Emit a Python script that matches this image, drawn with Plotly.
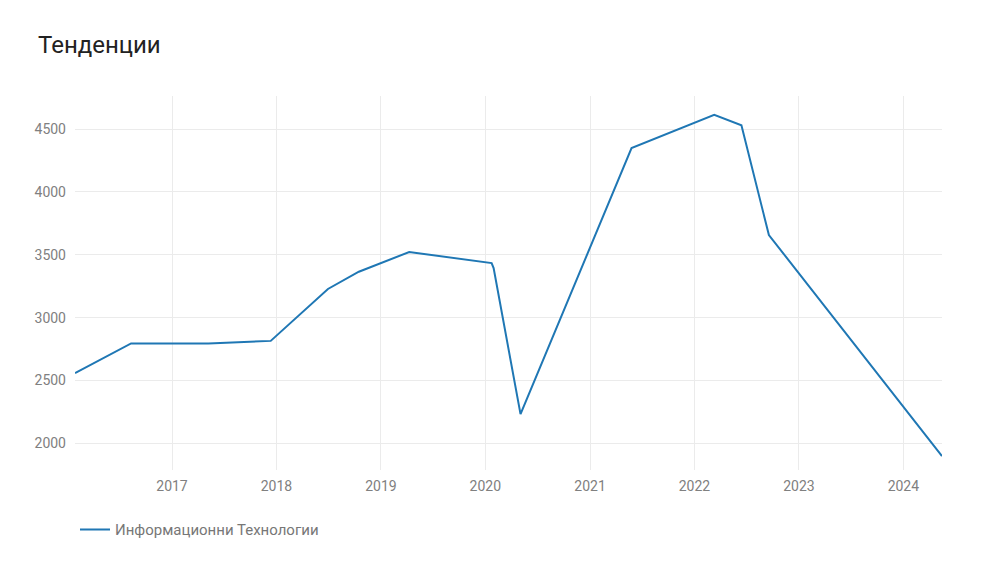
import plotly.graph_objects as go

dates = ["2016-01-28", "2016-08-11", "2017-05-08", "2017-12-12", "2018-06-30",
         "2018-10-16", "2019-04-10", "2020-01-23", "2020-01-30", "2020-05-03",
         "2021-05-26", "2022-03-11", "2022-06-14", "2022-09-18", "2024-05-15"]
values = [2559, 2795, 2795, 2815, 3228,
          3365, 3522, 3434, 3394, 2232,
          4349, 4614, 4530, 3657, 1899]
series_name = "Информационни Технологии"
title_text = "Тенденции"

W, H = 980, 559

fig = go.Figure()
fig.add_trace(go.Scatter(
    x=dates, y=values, mode="lines", name=series_name,
    line=dict(color="#1f77b4", width=2),
))

fig.update_layout(
    width=W, height=H,
    paper_bgcolor="white", plot_bgcolor="white",
    font=dict(family="Roboto, sans-serif", size=14, color="#808080"),
    title=dict(text=title_text, x=30/W, xanchor="left", xref="container",
               y=1-37/H, yanchor="middle", yref="container",
               font=dict(family="Roboto, sans-serif", size=24, color="#222222")),
    margin=dict(l=67, r=46, t=88, b=97),
    showlegend=True,
    legend=dict(orientation="h", x=0, xanchor="left", y=-0.16, yanchor="middle",
                font=dict(size=15, color="#777777")),
    xaxis=dict(type="date", range=["2016-01-28", "2024-05-15"],
               showgrid=True, gridcolor="#ebebeb", zeroline=False,
               showline=False, ticks="", dtick="M12", tick0="2017-01-01",
               tickformat="%Y", ticklabelstandoff=6),
    yaxis=dict(range=[1788, 4763], showgrid=True, gridcolor="#ebebeb",
               zeroline=False, showline=False, ticks="", dtick=500,
               tick0=0, ticklabelstandoff=8),
)

fig.write_html("out.html")
